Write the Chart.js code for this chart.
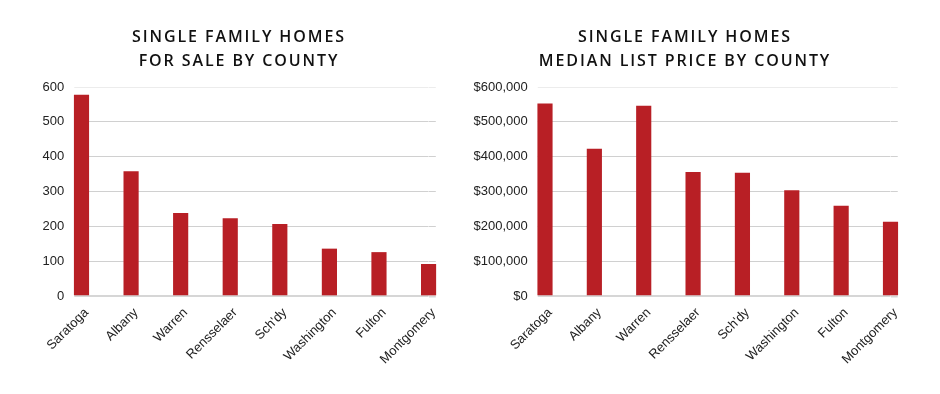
<!DOCTYPE html>
<html>
<head>
<meta charset="utf-8">
<script src="https://cdn.jsdelivr.net/npm/chart.js@4"></script>
<style>
  html, body { margin: 0; padding: 0; background: #fff; }
  #wrap { position: relative; width: 940px; height: 394px; overflow: hidden; }
  .panel { position: absolute; top: 0; width: 470px; height: 394px; }
  .title {
    position: absolute; top: 24px; width: 470px; text-align: center;
    font-family: "Open Sans", sans-serif; font-weight: 600; font-size: 16px;
    letter-spacing: 1.9px; line-height: 24px; color: #111;
  }
</style>
</head>
<body>
<div id="wrap">
  <div class="panel" style="left:0"><canvas id="countChart" width="470" height="394"></canvas></div>
  <div class="panel" style="left:470px"><canvas id="priceChart" width="470" height="394"></canvas></div>
  <div class="title" style="left:4px">SINGLE FAMILY HOMES<br>FOR SALE BY COUNTY</div>
  <div class="title" style="left:450px">SINGLE FAMILY HOMES<br>MEDIAN LIST PRICE BY COUNTY</div>
</div>
<script>
// ilçeler (county)
const counties = ['Saratoga', 'Albany', 'Warren', 'Rensselaer', "Sch'dy", 'Washington', 'Fulton', 'Montgomery'];
// satılık ev sayısı
const homesForSale = [577, 357, 237, 222, 206, 135, 125, 91];
// medyan liste fiyatı
const medianPrice = [552000, 422000, 545000, 355000, 353000, 303000, 258000, 212000];

const countTicks = [0, 100, 200, 300, 400, 500, 600];
const priceTicks = [0, 100000, 200000, 300000, 400000, 500000, 600000];

const BAR_RED = '#b81f25';
const GRID = '#d0d0d0';
const TEXT = '#222';
const FONT = { family: '"Liberation Sans", Arial, sans-serif', size: 13 };

function lineColor(max) {
  return (c) => c.tick && c.tick.value === 0 ? '#d6d6d6' : (c.tick && c.tick.value === max ? '#ececec' : GRID);
}
const lineW = (c) => c.tick && c.tick.value === 0 ? 2 : 1;

function buildChart(canvas, values, ticks, fmt, yWidth, padRight) {
  const stepSize = ticks[1] - ticks[0];
  const max = ticks[ticks.length - 1];
  return new Chart(canvas.getContext('2d'), {
    type: 'bar',
    data: {
      labels: counties,
      datasets: [{
        data: values,
        backgroundColor: BAR_RED,
        barThickness: 14.5,
        clip: false
      }]
    },
    options: {
      responsive: false,
      animation: false,
      layout: { padding: { top: 87, right: padRight, bottom: 0, left: 0 } },
      plugins: { legend: { display: false }, tooltip: { enabled: false } },
      scales: {
        x: {
          type: 'category',
          offset: false,
          grid: { display: false, drawTicks: false },
          border: { display: false },
          ticks: {
            color: TEXT, font: FONT,
            maxRotation: 45, minRotation: 45,
            padding: 9,
            labelOffset: 5,
            autoSkip: false
          },
          afterFit: (s) => { s.height = 98; }
        },
        y: {
          position: 'left',
          min: 0, max: max,
          grid: {
            color: lineColor(max),
            lineWidth: lineW,
            tickColor: lineColor(max),
            tickLength: 7.25,
            tickWidth: lineW
          },
          border: { display: false },
          ticks: {
            stepSize: stepSize,
            color: TEXT, font: FONT,
            padding: 10,
            callback: (v) => fmt(v)
          },
          afterFit: (s) => { s.width = yWidth; }
        },
        yRight: {
          position: 'right',
          min: 0, max: max,
          grid: {
            drawOnChartArea: false,
            tickColor: lineColor(max),
            tickLength: 7.25,
            tickWidth: lineW
          },
          border: { display: false },
          ticks: { display: false, stepSize: stepSize },
          afterFit: (s) => { s.width = 7.25; }
        }
      }
    }
  });
}

buildChart(document.getElementById('countChart'), homesForSale, countTicks,
  (v) => String(v), 81.5, 34.2);
buildChart(document.getElementById('priceChart'), medianPrice, priceTicks,
  (v) => '$' + v.toLocaleString('en-US'), 75, 42.25);
</script>
</body>
</html>
